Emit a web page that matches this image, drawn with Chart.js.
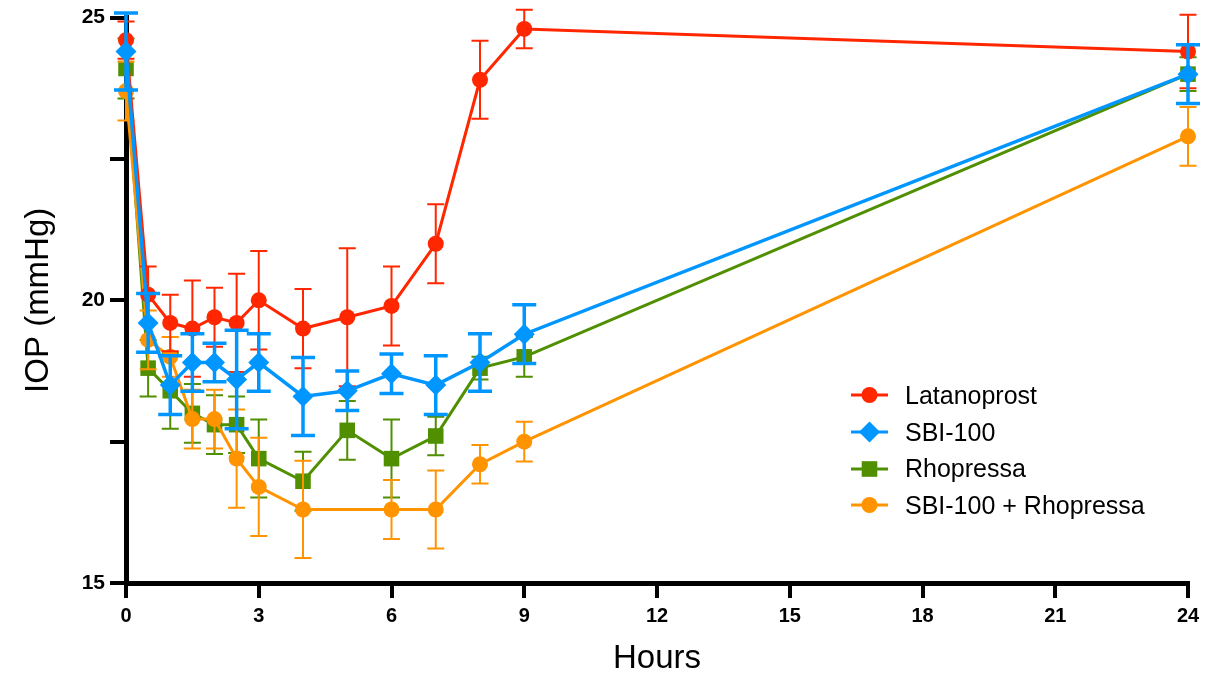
<!DOCTYPE html>
<html>
<head>
<meta charset="utf-8">
<script src="https://cdn.jsdelivr.net/npm/chart.js@4.4.1/dist/chart.umd.min.js"></script>
<style>
  body { margin: 0; background: #fff; }
  #wrap { position: relative; width: 1224px; height: 675px; }
  #legend { position: absolute; left: 851px; top: 377px; font-family: 'Liberation Sans', Arial, sans-serif; font-size: 25px; color: #000; }
  .row { display: flex; align-items: center; height: 36.7px; }
  .row svg { margin-right: 17px; }
</style>
</head>
<body>
<div id="wrap">
  <canvas id="chart" width="1224" height="675"></canvas>
  <div id="legend"></div>
</div>
<script>
// données (moyenne et SEM)
const hours = [0, 0.5, 1, 1.5, 2, 2.5, 3, 4, 5, 6, 7, 8, 9, 24];

const latanoprost    = [24.6, 20.1, 19.6, 19.5, 19.7, 19.6, 20.0, 19.5, 19.7, 19.9, 21.0, 23.9, 24.8, 24.4];
const latanoprostErr = [0.33, 0.5, 0.5, 0.85, 0.52, 0.87, 0.87, 0.7, 1.22, 0.7, 0.7, 0.69, 0.34, 0.65];

const sbi100    = [24.4, 19.6, 18.5, 18.9, 18.9, 18.6, 18.9, 18.3, 18.4, 18.7, 18.5, 18.9, 19.4, 24.0];
const sbi100Err = [0.68, 0.52, 0.52, 0.51, 0.34, 0.87, 0.51, 0.69, 0.35, 0.35, 0.52, 0.51, 0.52, 0.52];

const rhopressa    = [24.1, 18.8, 18.4, 18.0, 17.8, 17.8, 17.2, 16.8, 17.7, 17.2, 17.6, 18.8, 19.0, 24.0];
const rhopressaErr = [0.53, 0.5, 0.67, 0.52, 0.52, 0.5, 0.69, 0.52, 0.52, 0.69, 0.34, 0.2, 0.35, 0.3];

const combo    = [23.7, 19.3, 19.0, 17.9, 17.9, 17.2, 16.7, 16.3, null, 16.3, 16.3, 17.1, 17.5, 22.9];
const comboErr = [0.52, 0.52, 0.35, 0.52, 0.52, 0.87, 0.87, 0.86, null, 0.52, 0.69, 0.34, 0.35, 0.52];

const xTicks = [0, 3, 6, 9, 12, 15, 18, 21, 24];
const yLabels = [15, 20, 25];

const FONT = "'Liberation Sans', Arial, sans-serif";

function toPoints(values) {
    return hours.map((h, i) => ({ x: h, y: values[i] }));
}

// barres d'erreur dessinées juste avant chaque série
const errorBars = {
    id: 'errorBars',
    beforeDatasetDraw(chart, args) {
        const ds = chart.data.datasets[args.index];
        if (!ds.errors) return;
        const ctx = chart.ctx;
        const xs = chart.scales.x, ys = chart.scales.y;
        ctx.save();
        ctx.strokeStyle = ds.borderColor;
        ctx.lineWidth = ds.errWidth;
        ds.data.forEach((p, i) => {
            const e = ds.errors[i];
            if (p.y == null || e == null) return;
            const px = xs.getPixelForValue(p.x);
            const top = ys.getPixelForValue(p.y + e);
            const bot = ys.getPixelForValue(p.y - e);
            const w = ds.capWidth / 2;
            ctx.beginPath();
            ctx.moveTo(px, top); ctx.lineTo(px, bot);
            ctx.moveTo(px - w, top); ctx.lineTo(px + w, top);
            ctx.moveTo(px - w, bot); ctx.lineTo(px + w, bot);
            ctx.stroke();
        });
        ctx.restore();
    }
};

const series = [
    { label: 'Latanoprost', values: latanoprost, errors: latanoprostErr, color: '#FF2600', shape: 'circle', radius: 8, order: 1, lw: 3, errWidth: 2, capWidth: 17 },
    { label: 'SBI-100', values: sbi100, errors: sbi100Err, color: '#0096FF', shape: 'rectRot', radius: 10.5, order: 0, lw: 3.5, errWidth: 3.5, capWidth: 24 },
    { label: 'Rhopressa', values: rhopressa, errors: rhopressaErr, color: '#4F8F00', shape: 'rect', radius: 11, order: 3, lw: 3, errWidth: 2, capWidth: 17 },
    { label: 'SBI-100 + Rhopressa', values: combo, errors: comboErr, color: '#FF9300', shape: 'circle', radius: 8, order: 2, lw: 3, errWidth: 2, capWidth: 17 }
];

const datasets = series.map(s => ({
    label: s.label,
    data: toPoints(s.values),
    errors: s.errors,
    errWidth: s.errWidth,
    capWidth: s.capWidth,
    borderColor: s.color,
    backgroundColor: s.color,
    borderWidth: s.lw,
    pointStyle: s.shape,
    pointRadius: s.radius,
    pointBorderWidth: 0,
    pointHoverRadius: s.radius,
    spanGaps: true,
    tension: 0,
    clip: false,
    order: s.order
}));

const ctx = document.getElementById('chart').getContext('2d');
new Chart(ctx, {
    type: 'line',
    data: { datasets: datasets },
    plugins: [errorBars],
    options: {
        responsive: false,
        animation: false,
        layout: { padding: { top: 17, right: 36, left: 0, bottom: 0 } },
        plugins: { legend: { display: false }, tooltip: { enabled: false } },
        scales: {
            x: {
                type: 'linear',
                min: 0, max: 24,
                afterBuildTicks: scale => { scale.ticks = xTicks.map(v => ({ value: v })); },
                afterFit: scale => { scale.height = 92; },
                grid: { drawOnChartArea: false, color: '#000', lineWidth: 4, tickLength: 15 },
                border: { color: '#000', width: 5 },
                ticks: { color: '#000', padding: 6, font: { family: FONT, size: 20, weight: 'bold' } },
                title: { display: true, text: 'Hours', color: '#000', padding: 0, font: { family: FONT, size: 33, lineHeight: 1 } }
            },
            y: {
                min: 15, max: 25,
                ticks: {
                    stepSize: 2.5,
                    color: '#000', padding: 5,
                    font: { family: FONT, size: 21, weight: 'bold' },
                    callback: v => yLabels.includes(v) ? v : ''
                },
                afterFit: scale => { scale.width = 126; },
                grid: { drawOnChartArea: false, color: '#000', lineWidth: 4, tickLength: 16 },
                border: { color: '#000', width: 5 },
                title: { display: true, text: 'IOP (mmHg)', color: '#000', padding: { top: 22, bottom: 0 }, font: { family: FONT, size: 33, lineHeight: 1 } }
            }
        }
    }
});

// légende HTML
function icon(s) {
    let mark = '';
    if (s.shape === 'circle') mark = `<circle cx="18.5" cy="12" r="8" fill="${s.color}"/>`;
    else if (s.shape === 'rectRot') mark = `<polygon points="18.5,1.5 29,12 18.5,22.5 8,12" fill="${s.color}"/>`;
    else mark = `<rect x="10.7" y="4.2" width="15.6" height="15.6" fill="${s.color}"/>`;
    return `<svg width="37" height="24"><line x1="0" y1="12" x2="37" y2="12" stroke="${s.color}" stroke-width="3"/>${mark}</svg>`;
}
document.getElementById('legend').innerHTML = series.map(s =>
    `<div class="row">${icon(s)}<span>${s.label}</span></div>`).join('');
</script>
</body>
</html>
